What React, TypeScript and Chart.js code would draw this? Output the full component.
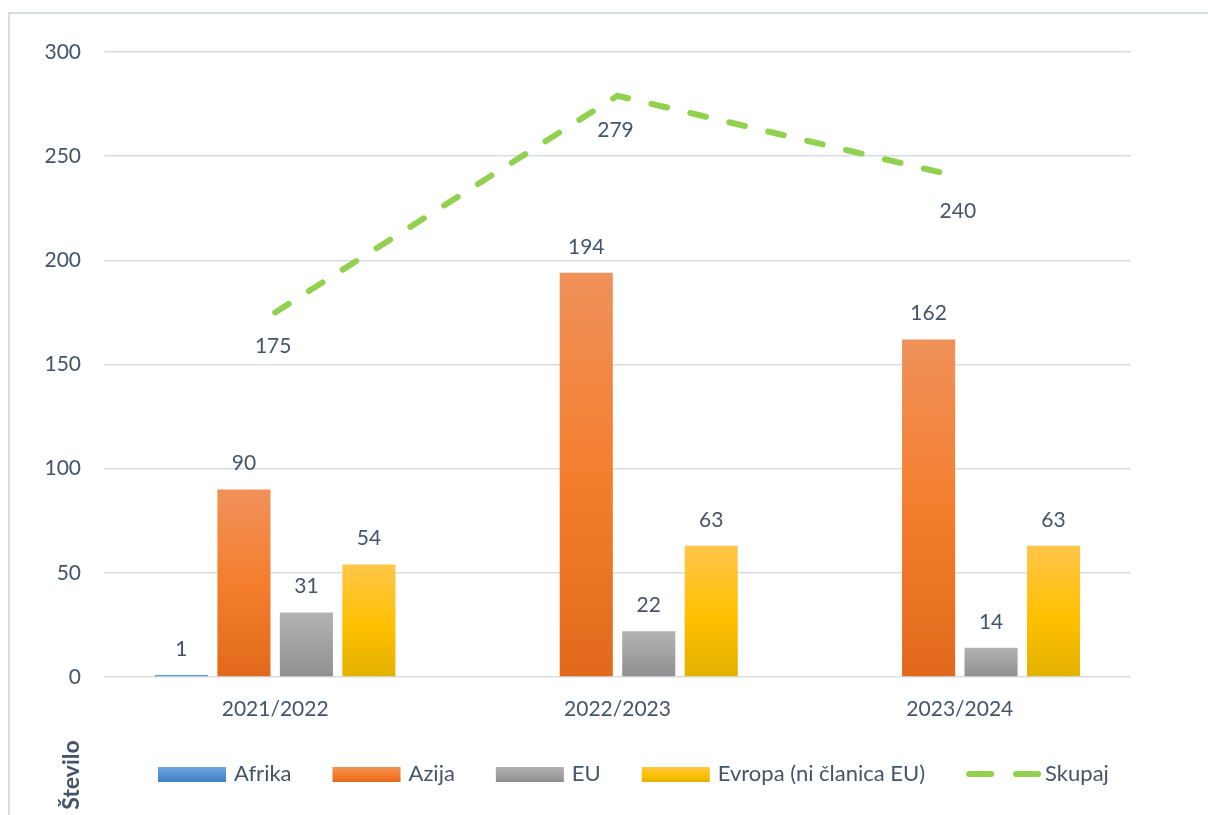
import React, { useEffect, useRef } from "react";
import { Chart, registerables } from "chart.js";

Chart.register(...registerables);

const categories = ["2021/2022", "2022/2023", "2023/2024"];
const afrika = [1, null, null];
const azija = [90, 194, 162];
const eu = [31, 22, 14];
const evropa = [54, 63, 63];
const skupaj = [175, 279, 240];
const yTicks = [0, 50, 100, 150, 200, 250, 300];

const TEXT = "#44546A";
const FONT = "Lato, 'Open Sans', sans-serif";
const FS = 21;

type Stops = [number, string][];
const gradAfrika: Stops = [[0, "#6FA6DD"], [1, "#3D7FC4"]];
const gradAzija: Stops = [[0, "#F0915A"], [0.5, "#F47E2E"], [1, "#E2691B"]];
const gradEU: Stops = [[0, "#B3B3B3"], [1, "#8F8F8F"]];
const gradEvropa: Stops = [[0, "#FFC64A"], [0.55, "#FFC000"], [1, "#E2B100"]];

function barGradient(stops: Stops) {
  return (ctx: any) => {
    const chart = ctx.chart;
    const y = chart.scales?.y;
    if (!chart.chartArea || !y || ctx.raw == null) return stops[0][1];
    const top = y.getPixelForValue(ctx.raw);
    const bottom = y.getPixelForValue(0);
    if (!isFinite(top) || !isFinite(bottom) || Math.abs(bottom - top) < 1) return stops[stops.length - 1][1];
    const g = chart.ctx.createLinearGradient(0, top, 0, bottom);
    stops.forEach(([o, c]) => g.addColorStop(o, c));
    return g;
  };
}

function legendGradient(ctx: CanvasRenderingContext2D, stops: Stops, y0: number, y1: number) {
  const g = ctx.createLinearGradient(0, y0, 0, y1);
  stops.forEach(([o, c]) => g.addColorStop(o, c));
  return g;
}

const labelsPlugin = {
  id: "valueLabels",
  afterDatasetsDraw(chart: any) {
    const ctx = chart.ctx;
    ctx.save();
    ctx.font = `${FS}px ${FONT}`;
    ctx.fillStyle = TEXT;
    ctx.textAlign = "center";
    ctx.textBaseline = "middle";
    chart.data.datasets.forEach((ds: any, i: number) => {
      const meta = chart.getDatasetMeta(i);
      meta.data.forEach((el: any, j: number) => {
        const v = ds.data[j];
        if (v == null) return;
        if (ds.type === "line") {
          ctx.fillText(String(v), el.x - 2, el.y + 34);
        } else {
          ctx.fillText(String(v), el.x, el.y - 26);
        }
      });
    });
    ctx.restore();
  },
};

const legendPlugin = {
  id: "customLegend",
  afterDraw(chart: any) {
    const ctx = chart.ctx;
    ctx.save();
    ctx.font = `22px ${FONT}`;
    ctx.textBaseline = "middle";
    ctx.textAlign = "left";
    const cy = 774;
    const items: { label: string; stops?: Stops; line?: boolean }[] = [
      { label: "Afrika", stops: gradAfrika },
      { label: "Azija", stops: gradAzija },
      { label: "EU", stops: gradEU },
      { label: "Evropa (ni članica EU)", stops: gradEvropa },
      { label: "Skupaj", line: true },
    ];
    let x = 158;
    items.forEach((it) => {
      if (it.line) {
        ctx.strokeStyle = "#92D050";
        ctx.lineWidth = 6;
        ctx.lineCap = "round";
        ctx.beginPath();
        ctx.moveTo(x + 3, cy);
        ctx.lineTo(x + 25, cy);
        ctx.moveTo(x + 50, cy);
        ctx.lineTo(x + 72, cy);
        ctx.stroke();
        ctx.fillStyle = TEXT;
        ctx.fillText(it.label, x + 79, cy);
        x += 79 + ctx.measureText(it.label).width + 41;
      } else {
        ctx.fillStyle = legendGradient(ctx, it.stops!, cy - 7, cy + 8);
        ctx.fillRect(x, cy - 7, 68, 15);
        ctx.fillStyle = TEXT;
        ctx.fillText(it.label, x + 76, cy);
        x += 76 + ctx.measureText(it.label).width + 41;
      }
    });
    ctx.translate(72, 775);
    ctx.rotate(-Math.PI / 2);
    ctx.font = `bold 23px ${FONT}`;
    ctx.textAlign = "center";
    ctx.fillStyle = TEXT;
    ctx.fillText("Število", 0, 0);
    ctx.restore();
  },
};

export default function App() {
  const ref = useRef<HTMLCanvasElement>(null);
  useEffect(() => {
    if (!ref.current) return;
    const chart = new Chart(ref.current, {
      type: "bar",
      data: {
        labels: categories,
        datasets: [
          { type: "line", label: "Skupaj", data: skupaj, borderColor: "#92D050", borderWidth: 6, borderDash: [16, 24], borderCapStyle: "round", pointRadius: 0, fill: false, tension: 0, order: 0 } as any,
          { label: "Afrika", data: afrika, backgroundColor: barGradient(gradAfrika), order: 1 },
          { label: "Azija", data: azija, backgroundColor: barGradient(gradAzija), order: 1 },
          { label: "EU", data: eu, backgroundColor: barGradient(gradEU), order: 1 },
          { label: "Evropa (ni članica EU)", data: evropa, backgroundColor: barGradient(gradEvropa), order: 1 },
        ],
      },
      options: {
        animation: false,
        responsive: true,
        maintainAspectRatio: false,
        layout: { padding: { top: 52, right: 77, left: 0, bottom: 0 } },
        datasets: { bar: { categoryPercentage: 0.73, barPercentage: 0.85 } } as any,
        plugins: { legend: { display: false }, tooltip: { enabled: false } },
        scales: {
          x: {
            grid: { display: false, drawTicks: false },
            border: { display: false },
            ticks: { color: TEXT, font: { family: FONT, size: FS }, padding: 20 },
            afterFit: (s: any) => { s.height = 138; },
          },
          y: {
            min: 0,
            max: 300,
            afterBuildTicks: (s: any) => { s.ticks = yTicks.map((v) => ({ value: v })); },
            grid: { color: "#D9DDE3", lineWidth: 1.5, drawTicks: false },
            border: { display: false },
            ticks: { color: TEXT, font: { family: FONT, size: FS }, padding: 23 },
            afterFit: (s: any) => { s.width = 104; },
          },
        },
      },
      plugins: [labelsPlugin, legendPlugin],
    });
    return () => chart.destroy();
  }, []);
  return (
    <>
      <div style={{ position: "fixed", left: 8, top: 12, right: 0, bottom: 0, borderTop: "2px solid #D9DCE1", borderLeft: "2px solid #D9DCE1" }} />
      <div style={{ position: "fixed", left: 0, top: 0, width: 1208, height: 815 }}>
        <canvas ref={ref} />
      </div>
    </>
  );
}
